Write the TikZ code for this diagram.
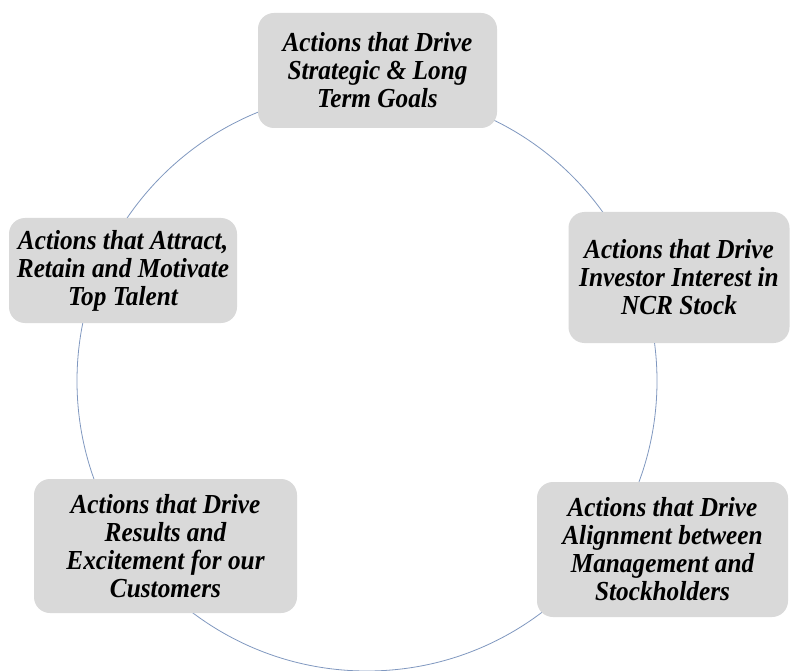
\documentclass[tikz,border=0pt]{standalone}
\usepackage{fontspec}
\setmainfont{Liberation Serif}[FakeStretch=0.92]
\definecolor{boxgray}{RGB}{217,217,217}
\definecolor{ringblue}{RGB}{128,152,192}
\tikzset{
  goalbox/.style={draw=none, fill=boxgray, rounded corners=16pt, inner sep=0pt,
    align=center, font=\fontsize{27.5}{28}\selectfont\bfseries\itshape},
  ring/.style={draw=ringblue, line width=0.8pt}
}
\begin{document}
\begin{tikzpicture}[x=1pt,y=-1pt]
\clip (0,0) rectangle (790,671);
\fill[white] (0,0) rectangle (790,671);
\draw[ring] (367,381) circle (290pt);
\node[goalbox, minimum width=239pt, minimum height=115pt] (top) at (377.5,70.5)
  {Actions that Drive\\Strategic \& Long\\Term Goals};
\node[goalbox, minimum width=221pt, minimum height=131pt] (right) at (679,277.5)
  {Actions that Drive\\Investor Interest in\\NCR Stock};
\node[goalbox, minimum width=228pt, minimum height=105pt] (left) at (123,270.5)
  {Actions that Attract,\\Retain and Motivate\\Top Talent};
\node[goalbox, minimum width=263pt, minimum height=134pt] (bl) at (165.5,546)
  {Actions that Drive\\Results and\\Excitement for our\\Customers};
\node[goalbox, minimum width=251pt, minimum height=135pt] (br) at (662.5,549.5)
  {Actions that Drive\\Alignment between\\Management and\\Stockholders};
\end{tikzpicture}
\end{document}
